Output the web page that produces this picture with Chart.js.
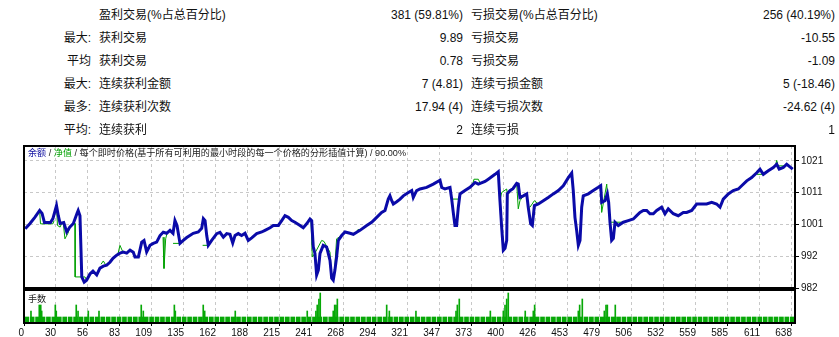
<!DOCTYPE html>
<html>
<head>
<meta charset="utf-8">
<script src="https://cdn.jsdelivr.net/npm/chart.js@4.4.1/dist/chart.umd.min.js"></script>
<style>
html, body { margin: 0; padding: 0; background: #fff; }
#page { position: relative; width: 839px; height: 337px; overflow: hidden;
  font-family: "Liberation Sans", "Noto Sans CJK SC", sans-serif; color: #111; }
.cell { position: absolute; font-size: 12px; line-height: 16px; white-space: nowrap; z-index: 3; }
.cap { position: absolute; font-size: 9.1px; line-height: 11px; white-space: nowrap; z-index: 3;
  font-family: "Liberation Sans", "Noto Sans CJK SC", sans-serif; color: #222; }
#mainBox { position: absolute; left: 0; top: 138px; width: 839px; height: 162px; z-index: 2; }
#lotBox { position: absolute; left: 0; top: 286px; width: 839px; height: 51px; z-index: 1; }
</style>
</head>
<body>
<div id="page">
  <div id="stats"></div>
  <div class="cap" style="left:28px;top:148px;"><span style="color:#1010a0">余额</span> / <span style="color:#00a000">净值</span> / 每个即时价格(基于所有可利用的最小时段的每一个价格的分形插值计算) / 90.00%</div>
  <div class="cap" style="left:28px;top:294px;">手数</div>
  <div id="mainBox"><canvas id="mainChart" width="839" height="162"></canvas></div>
  <div id="lotBox"><canvas id="lotChart" width="839" height="51"></canvas></div>
</div>
<script>
// report table
const rowPrefix = ['', '最大:', '平均', '最大:', '最多:', '平均:'];
const winLabel  = ['盈利交易(%占总百分比)', '获利交易', '获利交易', '连续获利金额', '连续获利次数', '连续获利'];
const winValue  = ['381 (59.81%)', '9.89', '0.78', '7 (4.81)', '17.94 (4)', '2'];
const lossLabel = ['亏损交易(%占总百分比)', '亏损交易', '亏损交易', '连续亏损金额', '连续亏损次数', '连续亏损'];
const lossValue = ['256 (40.19%)', '-10.55', '-1.09', '5 (-18.46)', '-24.62 (4)', '1'];

// x axis (trade number) and y axis (balance) ticks
const xTickLabels = ['0','30','56','83','109','135','162','188','215','241','268','294','321',
  '347','373','400','426','453','479','506','532','559','585','611','638'];
const xMax = 640.5;
const yTickVals = [982, 991.75, 1001.5, 1011.25, 1021];
const yTickLabels = ['982', '992', '1001', '1011', '1021'];
const yMin = 982, yMax = 1025.6;

// balance curve: trade number / value
const balT = [1,5,9,13,15,17,22,24,27,28.5,30,33,35.5,38,41,44,45,46.5,48,50,52,54.8,57.3,60.4,63.1,65.9,
  68.7,71.4,73.9,77,79.7,82.5,85.3,88.1,90.8,92.2,95,97.8,99.7,101.9,104.7,107.4,110.2,113,115.7,118.5,
  121.3,123.8,125.4,127.1,129.6,132.3,135.2,140.6,144.8,147.6,149,150.4,151.8,153.1,155.9,160.1,162.8,
  165.6,168.4,171.1,173.4,175.3,178,180.8,183.6,186.3,189.2,193.3,197.5,200.2,204.4,207.1,211.3,214.1,
  216.8,219.6,222.4,225.1,229.3,232,234.8,237.6,239,240.3,241.7,243.1,244.5,245.9,248.6,251.4,254.2,
  255.6,256.9,258.3,259.7,261.1,263.9,266.7,270.8,273.6,276.4,279.1,284.7,288.8,293,297.1,299.9,302.6,
  304,305.5,306.8,309.6,312.4,315.1,319.3,322.1,323.4,324.8,326.2,329,334.5,340,345.6,347,349.7,353.9,
  355.3,356.6,358,359.4,360.8,362.2,366.3,370.5,374.7,377.4,383,385.7,391.3,394,395.4,396.8,398.2,399.6,
  401,401.5,403.7,406.2,409.3,410.6,412,414.8,417.6,418.9,420.9,422.3,424,427.3,431.4,435.5,439.7,443.9,
  448,452.2,455,456.3,457.7,459.1,460.5,461.9,463.3,464.6,468.8,472.9,477.1,479.1,479.9,482.7,484.6,
  485.7,486.8,488.2,489.6,491,493.7,497.9,502,506.2,509,511.7,514.5,517.3,520,522.8,525.6,529.7,532.5,
  535.2,539.4,543.5,547.7,550.5,554.7,558.8,563,567.1,571.3,575.4,578.2,580.9,585.1,589.2,593.4,596.2,
  600.4,604.5,608.7,611.4,614.2,618.3,622.5,625.3,627.4,630.8,633.6,636.3,638.6];
const balV = [1000.2,1001.8,1003.7,1005.8,1004.9,1002.1,1002.1,1003.3,1007.3,1004.2,1001.8,1002.1,999.2,
  1000.7,1001.8,1004.9,1005.8,1004.2,985.4,983.8,984.4,986.3,987.2,986,988.1,988.7,989,989.9,991.1,992.1,
  992.7,993,992.7,993.6,993,991.5,991.5,996.1,996.6,993.1,995.1,995.7,996.1,998.1,999.1,998.8,999.7,
  998.8,1002.7,1001.2,995.7,996.6,997.5,998.8,999.2,1000.3,1003.3,1002.7,998.1,995.1,996.6,998.7,999.1,
  997.6,998.7,998.5,995.8,998.1,998.7,998.1,998.8,996.6,997.4,998.7,999.2,999.7,1000.5,1001.2,1001.2,
  1002.7,1004.2,1003.7,1002.7,1002.2,1001.2,1000.5,1001.7,1003.2,1002.7,994.6,992.6,986,987.5,992.6,
  995.1,994.6,990.5,985,984.4,987.5,991.5,996.6,998.1,999.2,998.8,998.5,999.1,999.7,1001.2,1002.2,
  1003.7,1005.2,1005.8,1009.3,1010.3,1008.8,1007.8,1008.5,1009.3,1010.3,1011.3,1011.9,1009.8,1010.9,
  1011.9,1012.4,1012.9,1013.9,1015.1,1012.9,1012.4,1012.9,1009.3,1005.2,1001.2,1001.2,1006.8,1010.9,
  1011.9,1012.9,1014.4,1013.9,1014.7,1015.4,1016.9,1017.7,1008.8,1000.7,993.6,994.2,996.6,1010.9,1011.9,
  1012.5,1014.1,1013.9,1009.8,1010.3,1010.9,1006.8,1001.7,1001.2,1007.3,1007.8,1008.8,1009.8,1010.9,
  1011.9,1013.4,1015.9,1017.3,1011.9,1003.7,999.7,995.1,996.6,1006.8,1010.3,1010.9,1011.9,1012.9,
  1013.4,1008.3,1008.8,1010.9,1008.3,1002.2,996.6,997.2,1002.2,1001.2,1002.2,1002.7,1003.2,1004.2,
  1005.2,1005.8,1005.8,1004.8,1004.8,1005.8,1006.8,1004.8,1006.3,1004.8,1004.2,1005.2,1005.2,1005.8,
  1007.8,1007.8,1007.8,1008.3,1007.8,1006.8,1009.3,1010.9,1011.9,1012.4,1013.4,1014.9,1015.9,1017.4,
  1018.5,1016.9,1018,1019,1020,1018.5,1019,1020,1019.2,1018.5];

// equity: only where it leaves the balance line (null = break)
const eqT = [13,13.7,24,25,25, 27,27.8,30,31.6,31.6, 32.6,34,36.5,38.2,38.2, 41,42.4,42.5,50.7,52,52,
  64,65.9,68,68, 78,79.7,82.2,82.2, 115.5,116.3,117.7,118.8,118.8, 123.8,129.6,129.6, 148.4,153.1,153.1,
  238.4,239.5,241.7,247.3,249.2,254.2,255.6,255.6, 258,259.7,263.9,263.9, 276,277.5,279.1,279.1,
  355.3,360.8,362.2,362.2, 372.2,373.8,377.4,378.8,378.8, 395.4,396.8,401,401.5,401.5,
  409.3,410.6,412,414.8,414.8, 418.9,420.3,424,427.3,427.3, 479.1,479.9,484.1,484.6,484.6,
  486.8,497.9,497.9, 608.7,614.2,614.2, 624,625.3,626.4,633];
const eqV = [1005.8,1001.7,1001.7,1002.7,null, 1007.3,1001.2,1000.7,1002.1,null, 1002.1,997.1,998.8,1000.7,null,
  1001.7,1001.8,985.4,985.4,984.4,null, 989.3,990.3,989,null, 992.4,995.1,993,null,
  997.6,988,997.1,998.8,null, 995.7,995.7,null, 995.1,995.1,null,
  1002.7,991.5,992.7,996.6,996.3,993,985,null, 987.5,997.1,998.1,null, 999.1,1000,999.7,null,
  1009.3,1009.3,1010.9,null, 1013.1,1015.4,1015.4,1014.3,null, 1008.8,1011.3,1012.4,1010.9,null,
  1014.1,1006.3,1008.8,1010.3,null, 1006.8,1006.8,1008.8,1007.8,null, 1013.4,1005.2,1013.9,1010.9,null,
  1002.2,1002.2,null, 1016.9,1016.9,null, 1019.2,1021.2,1019.5,1019.5];

// lots: regular small lots (one block per bin) and larger ones
const lotBins = [
  0.01,0.01,0.01,0.01,0.01,0.01,0.01,0.01,0.01,0.01,0.01,0.01,0.01,0.01,0.01,0.01,0.01,0.01,0.01,0.01,
  0.01,0.01,0.01,0.01,0.01,0.01,0.01,0.01,0.01,0.01,0.01,0.01,0.01,0.01,0.01,0.01,0.01,0.01,0.01,0.01,
  0.01,0.01,0.01,0.01,0.01,0.01,0.01,0.01,0.01,0.01,0.01,0.01,0.01,0.01,0.01,0.01,0.01,0.01,0.01,0.01,
  0.01,0.01,0.01,0.01,0.01,0.01,0.01,0.01,0.01,0.01,0.01,0.01,0.01,0.01,0.01,0.01,0.01,0.01,0.01,0.01,
  0.01,0.01,0.01,0.01,0.01,0.01,0.01,0.01,0.01,0.01,0.01,0.01,0.01,0.01,0.01,0.01,0.01,0.01,0.01,0.01,
  0.01,0.01,0.01,0.01,0.01,0.01,0.01,0.01,0.01,0.01,0.01,0.01,0.01,0.01,0.01,0.01,0.01,0.01,0.01,0.01,
  0.01,0.01,0.01,0.01,0.01,0.01,0.01,0.01,0.01,0.01,0.01,0.01,0.01,0.01,0.01,0.01,0.01,0.01,0.01,0.01,
  0.01,0.01];
const spikeT = [5.8,12.7,13.9,14.7,26,26.8,43.4,44.9,53.4,62.3,97.4,99.1,124.9,125.7,148.9,150.1,175.5,
  235.3,242.5,243.6,245,246.1,256.9,258.1,259.2,260.3,301.3,303.5,325.6,358.9,360,361.6,387.4,398.2,
  399.6,401,402.3,416.4,423.1,424.2,460.5,461.6,463.8,482.1,483.5,484.6,491.2];
const spikeLots = [0.02,0.03,0.03,0.02,0.03,0.02,0.03,0.02,0.02,0.02,0.03,0.02,0.03,0.02,0.03,0.02,0.02,
  0.02,0.02,0.03,0.04,0.05,0.02,0.03,0.03,0.04,0.03,0.02,0.02,0.02,0.03,0.04,0.02,0.02,
  0.03,0.04,0.05,0.02,0.02,0.03,0.02,0.03,0.04,0.02,0.03,0.03,0.03];

// build the report table
const stats = document.getElementById('stats');
const rowY = [7, 30, 53, 76, 99, 121.5];
function addCell(text, left, right, top) {
  const d = document.createElement('div');
  d.className = 'cell';
  d.textContent = text;
  if (left !== null) d.style.left = left + 'px';
  if (right !== null) { d.style.right = right + 'px'; d.style.textAlign = 'right'; }
  d.style.top = top + 'px';
  stats.appendChild(d);
}
rowY.forEach((y, i) => {
  addCell(rowPrefix[i], null, 839 - 91, y);
  addCell(winLabel[i], 99, null, y);
  addCell(winValue[i], null, 839 - 463, y);
  addCell(lossLabel[i], 471, null, y);
  addCell(lossValue[i], null, 839 - 835, y);
});

Chart.defaults.font.family = '"Liberation Sans", sans-serif';
Chart.defaults.font.size = 10;
Chart.defaults.color = '#111';

const xTickVals = xTickLabels.map((_, i) => i * 638 / 24);
const binW = xMax / lotBins.length;

// black frame round the plot area
const framePlugin = {
  id: 'frame',
  afterDatasetsDraw(chart) {
    const a = chart.chartArea, c = chart.ctx;
    c.save();
    c.strokeStyle = '#000';
    c.lineWidth = 2;
    c.strokeRect(a.left, a.top, a.right - a.left, a.bottom - a.top);
    c.restore();
  }
};

const gridCol = '#c8c8c8';
const lotGreen = '#06a806';

// balance / equity chart
new Chart(document.getElementById('mainChart'), {
  type: 'line',
  data: {
    datasets: [
      { label: '余额', data: balT.map((t, i) => ({ x: t, y: balV[i] })),
        borderColor: '#0a0aa8', borderWidth: 3, pointRadius: 0, tension: 0 },
      { label: '净值', data: eqT.map((t, i) => ({ x: t, y: eqV[i] })),
        borderColor: '#00a000', borderWidth: 1, pointRadius: 0, tension: 0 }
    ]
  },
  options: {
    responsive: false, animation: false,
    layout: { padding: { left: 24, top: 7, right: 0, bottom: 12 } },
    plugins: { legend: { display: false }, tooltip: { enabled: false } },
    scales: {
      x: {
        type: 'linear', min: 0, max: xMax,
        afterBuildTicks: s => { s.ticks = xTickVals.map(v => ({ value: v })); },
        afterFit: s => { s.height = 0; },
        ticks: { display: false },
        grid: { color: gridCol, drawTicks: false },
        border: { display: false, dash: [3, 3] }
      },
      y: {
        position: 'right', min: yMin, max: yMax,
        afterBuildTicks: s => { s.ticks = yTickVals.map(v => ({ value: v })); },
        afterFit: s => { s.width = 44; },
        ticks: { padding: 2, callback: (v, i) => yTickLabels[i] },
        grid: { color: gridCol, tickLength: 4, tickColor: '#000', tickBorderDash: [] },
        border: { display: false, dash: [3, 3] }
      }
    }
  },
  plugins: [framePlugin]
});

// lots chart
new Chart(document.getElementById('lotChart'), {
  type: 'bar',
  data: {
    datasets: [
      { data: spikeT.map((t, i) => ({ x: t, y: spikeLots[i] })),
        backgroundColor: lotGreen, barThickness: 1, grouped: false },
      { data: lotBins.map((v, i) => ({ x: (i + 0.5) * binW, y: v })),
        backgroundColor: lotGreen, barThickness: 4, grouped: false }
    ]
  },
  options: {
    responsive: false, animation: false,
    layout: { padding: { left: 24, top: 4, right: 44, bottom: 0 } },
    plugins: { legend: { display: false }, tooltip: { enabled: false } },
    scales: {
      x: {
        type: 'linear', min: 0, max: xMax, offset: false,
        afterBuildTicks: s => { s.ticks = xTickVals.map(v => ({ value: v })); },
        afterFit: s => { s.height = 14; },
        ticks: { align: 'end', padding: 1, maxRotation: 0, autoSkip: false,
          callback: (v, i) => xTickLabels[i] },
        grid: { color: gridCol, offset: false, tickLength: 3, tickColor: '#000', tickBorderDash: [] },
        border: { display: false, dash: [3, 3] }
      },
      y: { min: 0, max: 0.055, display: false }
    }
  },
  plugins: [framePlugin]
});
</script>
</body>
</html>
